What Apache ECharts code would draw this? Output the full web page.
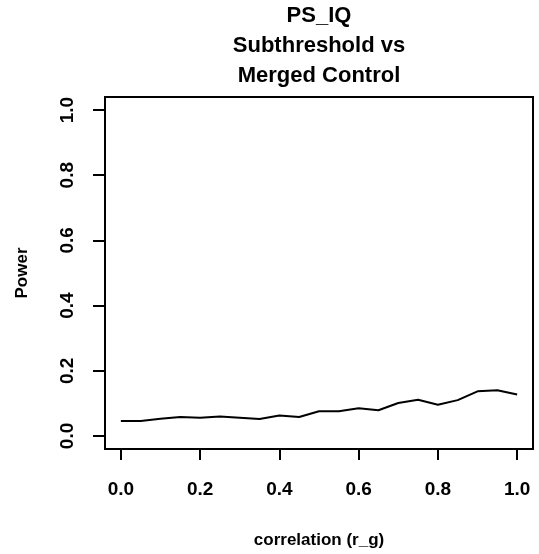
<!DOCTYPE html>
<html>
<head>
<meta charset="utf-8">
<script src="https://cdn.jsdelivr.net/npm/echarts@6/dist/echarts.min.js"></script>
<style>html,body{margin:0;padding:0;background:#fff}#c{width:539px;height:554px}</style>
</head>
<body>
<div id="c"></div>
<script>
var correlation = [0.00,0.05,0.10,0.15,0.20,0.25,0.30,0.35,0.40,0.45,0.50,0.55,0.60,0.65,0.70,0.75,0.80,0.85,0.90,0.95,1.00];
var power = [0.046,0.046,0.053,0.058,0.056,0.060,0.056,0.052,0.063,0.058,0.076,0.076,0.085,0.079,0.101,0.111,0.096,0.110,0.137,0.140,0.127];
var xTicks = [0, 0.2, 0.4, 0.6, 0.8, 1.0];
var yTicks = [0, 0.2, 0.4, 0.6, 0.8, 1.0];
var titleText = 'PS_IQ\nSubthreshold vs\nMerged Control';
var xName = 'correlation (r_g)';
var yName = 'Power';

var FONT = '"Liberation Sans", Arial, sans-serif';
var chart = echarts.init(document.getElementById('c'), null, {renderer: 'canvas'});
var data = correlation.map(function (x, i) { return [x, power[i]]; });
chart.setOption({
  animation: false,
  backgroundColor: '#fff',
  title: {
    text: titleText,
    left: 319, top: 1, padding: 0, textAlign: 'center',
    textStyle: {fontFamily: FONT, fontWeight: 'bold', fontSize: 22, lineHeight: 30, color: '#000'}
  },
  grid: {left: 105, right: 6, top: 97, bottom: 100, show: true, borderColor: '#000', borderWidth: 2, backgroundColor: 'transparent'},
  xAxis: {
    type: 'value', min: -0.04, max: 1.04,
    name: xName, nameLocation: 'middle', nameGap: 83,
    nameTextStyle: {fontFamily: FONT, fontWeight: 'bold', fontSize: 17, color: '#000'},
    axisLine: {show: false, onZero: false},
    splitLine: {show: false},
    axisTick: {show: true, length: 11, inside: false, lineStyle: {color: '#000', width: 2}, customValues: xTicks},
    axisLabel: {show: true, margin: 31, fontFamily: FONT, fontWeight: 'bold', fontSize: 19, color: '#000',
      customValues: xTicks, formatter: function (v) { return v.toFixed(1); }}
  },
  yAxis: {
    type: 'value', min: -0.04, max: 1.04,
    name: yName, nameLocation: 'middle', nameGap: 74, nameRotate: 90,
    nameTextStyle: {fontFamily: FONT, fontWeight: 'bold', fontSize: 17, color: '#000'},
    axisLine: {show: false, onZero: false},
    splitLine: {show: false},
    axisTick: {show: true, length: 12, inside: false, lineStyle: {color: '#000', width: 2}, customValues: yTicks},
    axisLabel: {show: true, margin: 28, rotate: 90, fontFamily: FONT, fontWeight: 'bold', fontSize: 19, color: '#000',
      customValues: yTicks, formatter: function (v) { return v.toFixed(1); }}
  },
  series: [{
    type: 'line', data: data, showSymbol: false, symbol: 'none',
    lineStyle: {color: '#000', width: 2}, silent: true
  }]
});
</script>
</body>
</html>
